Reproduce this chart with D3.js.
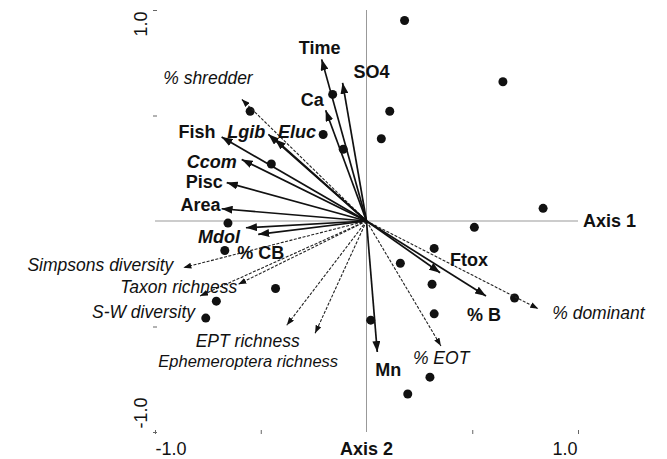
<!DOCTYPE html>
<html>
<head>
<meta charset="utf-8">
<script src="https://cdn.jsdelivr.net/npm/d3@7"></script>
<style>
  body { margin: 0; background: #fff; }
  text { font-family: "Liberation Sans", Arial, sans-serif; fill: #111; }
</style>
</head>
<body>
<div id="biplot"></div>
<script>
// site scores (axis 1, axis 2)
var siteX = [0.18, 0.645, 0.11, 0.07, 0.835, -0.16, -0.11, -0.205, -0.55, -0.45, -0.655,
             -0.67, -0.43, -0.71, -0.76, 0.51, 0.32, 0.16, 0.31, 0.70, 0.32, 0.02, 0.30, 0.195];
var siteY = [0.95, 0.66, 0.52, 0.39, 0.06, 0.60, 0.34, 0.41, 0.52, 0.27, -0.01,
             -0.14, -0.32, -0.38, -0.46, -0.03, -0.13, -0.20, -0.30, -0.365, -0.44, -0.47, -0.74, -0.82];

// environmental variables (solid arrows)
var envNames = ["Time", "SO4", "Ca", "Lgib", "Eluc", "Fish", "Ccom", "Pisc", "Area", "Mdol", "% CB", "Mn", "Ftox", "% B"];
var envX = [-0.212, -0.113, -0.193, -0.464, -0.433, -0.685, -0.59, -0.661, -0.685, -0.570, -0.512, 0.051, 0.348, 0.565];
var envY = [0.766, 0.655, 0.525, 0.411, 0.388, 0.398, 0.292, 0.182, 0.058, -0.032, -0.063, -0.621, -0.245, -0.355];
var envItalic = ["Lgib", "Eluc", "Ccom", "Mdol"];

// community metrics (dashed arrows)
var metNames = ["% shredder", "Simpsons diversity", "Taxon richness", "S-W diversity", "EPT richness",
                "Ephemeroptera richness", "% EOT", "% dominant"];
var metX = [-0.59, -0.866, -0.606, -0.787, -0.377, -0.243, 0.352, 0.812];
var metY = [0.577, -0.221, -0.300, -0.355, -0.494, -0.532, -0.592, -0.416];

var tickVals = [-1, -0.5, 0.5, 1];

// label placement: offset from arrow tip in px, and anchor
var labelPlace = {
  "Time": [-2, -5, "middle"], "SO4": [11, -5, "start"], "Ca": [-2, -4, "end"],
  "Lgib": [-3, 4, "end"], "Eluc": [3, -1, "start"], "Fish": [-6, 1, "end"],
  "Ccom": [-5, 9, "end"], "Pisc": [-4, 5, "end"], "Area": [-1, 2, "end"],
  "Mdol": [-6, 15, "end"], "% CB": [-21, 25, "start"], "Mn": [-2, 24, "start"],
  "Ftox": [10, -7, "start"], "% B": [-19, 25, "start"],
  "% shredder": [11, -15, "end"], "Simpsons diversity": [-10, 3, "end"],
  "Taxon richness": [-1, 9, "end"], "S-W diversity": [-5, 22, "end"],
  "EPT richness": [13, 22, "end"], "Ephemeroptera richness": [23, 34, "end"],
  "% EOT": [-28, 18, "start"], "% dominant": [14, 10, "start"]
};

var W = 667, H = 459;
var x = d3.scaleLinear().domain([-1, 1]).range([155, 578]);
var y = d3.scaleLinear().domain([-1, 1]).range([432, 10]);

var svg = d3.select("#biplot")
  .append("svg")
    .attr("width", W)
    .attr("height", H);

var defs = svg.append("defs");
defs.append("marker")
    .attr("id", "headSolid")
    .attr("markerUnits", "userSpaceOnUse")
    .attr("markerWidth", 12).attr("markerHeight", 8)
    .attr("refX", 11).attr("refY", 4)
    .attr("orient", "auto")
  .append("path")
    .attr("d", "M0,0 L11,4 L0,8 Z")
    .attr("fill", "#111");
defs.append("marker")
    .attr("id", "headDash")
    .attr("markerUnits", "userSpaceOnUse")
    .attr("markerWidth", 9).attr("markerHeight", 6)
    .attr("refX", 8).attr("refY", 3)
    .attr("orient", "auto")
  .append("path")
    .attr("d", "M0,0 L8,3 L0,6 Z")
    .attr("fill", "#111");

// axis lines
svg.append("line")
    .attr("x1", x(-1)).attr("x2", x(1))
    .attr("y1", y(0)).attr("y2", y(0))
    .attr("stroke", "#999").attr("stroke-width", 1);
svg.append("line")
    .attr("x1", x(0)).attr("x2", x(0))
    .attr("y1", y(1)).attr("y2", y(-1))
    .attr("stroke", "#999").attr("stroke-width", 1);

// ticks
svg.append("g")
    .attr("transform", "translate(" + (x(-1) + 2) + ",0)")
    .call(d3.axisLeft(y).tickValues(tickVals).tickSize(4).tickFormat(""));
svg.append("g")
    .attr("transform", "translate(0," + (y(-1) - 2) + ")")
    .call(d3.axisBottom(x).tickValues(tickVals).tickSize(4).tickFormat(""));
svg.selectAll(".domain").remove();
svg.selectAll(".tick line").attr("stroke", "#666");

// tick labels
svg.append("text")
    .attr("transform", "translate(147," + (y(1) + 14) + ") rotate(-90)")
    .attr("text-anchor", "middle").attr("font-size", 18).text("1.0");
svg.append("text")
    .attr("transform", "translate(147," + (y(-1) - 19) + ") rotate(-90)")
    .attr("text-anchor", "middle").attr("font-size", 18).text("-1.0");
svg.append("text")
    .attr("x", x(-1) + 16).attr("y", 455)
    .attr("text-anchor", "middle").attr("font-size", 18).text("-1.0");
svg.append("text")
    .attr("x", x(1) - 13).attr("y", 455)
    .attr("text-anchor", "middle").attr("font-size", 18).text("1.0");
svg.append("text")
    .attr("x", x(0)).attr("y", 455)
    .attr("text-anchor", "middle").attr("font-size", 18).attr("font-weight", "bold").text("Axis 2");
svg.append("text")
    .attr("x", x(1) + 5).attr("y", y(0) + 6)
    .attr("font-size", 18).attr("font-weight", "bold").text("Axis 1");

// sites
svg.append("g").selectAll("circle")
  .data(d3.range(siteX.length))
  .enter().append("circle")
    .attr("cx", function(i) { return x(siteX[i]); })
    .attr("cy", function(i) { return y(siteY[i]); })
    .attr("r", 4.5)
    .attr("fill", "#111");

// metric arrows (dashed)
var met = metNames.map(function(n, i) { return {name: n, x: metX[i], y: metY[i]}; });
svg.append("g").selectAll("line")
  .data(met)
  .enter().append("line")
    .attr("x1", x(0)).attr("y1", y(0))
    .attr("x2", function(d) { return x(d.x); })
    .attr("y2", function(d) { return y(d.y); })
    .attr("stroke", "#222")
    .attr("stroke-width", 1.1)
    .attr("stroke-dasharray", "3,1.5")
    .attr("marker-end", "url(#headDash)");

// environmental arrows (solid)
var env = envNames.map(function(n, i) { return {name: n, x: envX[i], y: envY[i]}; });
svg.append("g").selectAll("line")
  .data(env)
  .enter().append("line")
    .attr("x1", x(0)).attr("y1", y(0))
    .attr("x2", function(d) { return x(d.x); })
    .attr("y2", function(d) { return y(d.y); })
    .attr("stroke", "#111")
    .attr("stroke-width", 1.7)
    .attr("marker-end", "url(#headSolid)");

// labels
svg.append("g").selectAll("text")
  .data(met)
  .enter().append("text")
    .attr("x", function(d) { return x(d.x) + labelPlace[d.name][0]; })
    .attr("y", function(d) { return y(d.y) + labelPlace[d.name][1]; })
    .attr("text-anchor", function(d) { return labelPlace[d.name][2]; })
    .attr("font-size", function(d) { return d.name === "Ephemeroptera richness" ? 16.5 : 17.5; })
    .attr("font-style", "italic")
    .text(function(d) { return d.name; });

svg.append("g").selectAll("text")
  .data(env)
  .enter().append("text")
    .attr("x", function(d) { return x(d.x) + labelPlace[d.name][0]; })
    .attr("y", function(d) { return y(d.y) + labelPlace[d.name][1]; })
    .attr("text-anchor", function(d) { return labelPlace[d.name][2]; })
    .attr("font-size", 18)
    .attr("font-weight", "bold")
    .attr("font-style", function(d) { return envItalic.indexOf(d.name) >= 0 ? "italic" : "normal"; })
    .text(function(d) { return d.name; });
</script>
</body>
</html>
